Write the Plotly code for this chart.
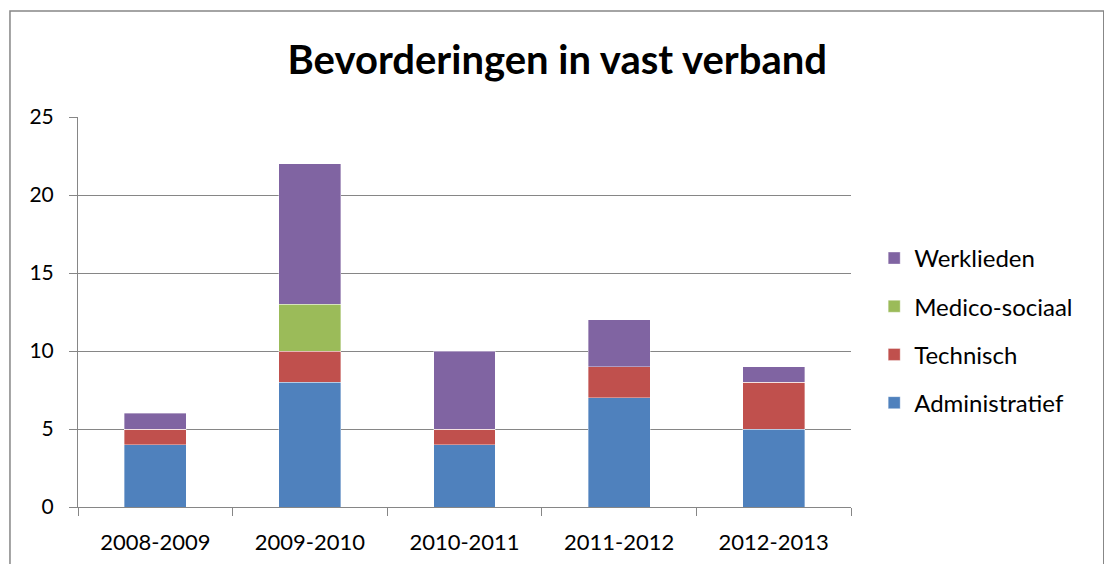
import plotly.graph_objects as go

years = ["2008-2009", "2009-2010", "2010-2011", "2011-2012", "2012-2013"]
administratief = [4, 8, 4, 7, 5]
technisch = [1, 2, 1, 2, 3]
medico_sociaal = [0, 3, 0, 0, 0]
werklieden = [1, 9, 5, 3, 1]

series = [
    ("Administratief", administratief, "#4F81BD"),
    ("Technisch", technisch, "#C0504D"),
    ("Medico-sociaal", medico_sociaal, "#9BBB59"),
    ("Werklieden", werklieden, "#8064A2"),
]

FONT = "Lato, Carlito, Calibri, sans-serif"
GRID = "#868686"

fig = go.Figure()
for i, (name, vals, col) in enumerate(series):
    # legend lists the top segment first
    fig.add_bar(name=name, x=years, y=vals, marker_color=col, legendgroup=name,
                legendrank=len(series) - i,
                marker_line=dict(color="rgba(255,255,255,0.6)", width=0.6), width=0.4)

# page has an 8px body margin, so margins are shifted by that much
fig.update_layout(
    barmode="stack",
    width=1112, height=564,
    margin=dict(l=70, r=269, t=109, b=65),
    paper_bgcolor="white", plot_bgcolor="white",
    font=dict(family=FONT, size=21, color="black"),
    title=dict(text="<b>Bevorderingen in vast verband</b>", x=0.62, xref="paper",
               xanchor="center", y=0.908, yanchor="middle",
               font=dict(size=40, family=FONT, color="black")),
    legend=dict(x=1.03, y=0.695, xanchor="left", yanchor="top",
                traceorder="grouped", tracegroupgap=14,
                font=dict(size=24, family=FONT), itemwidth=30),
    showlegend=True,
)
fig.update_yaxes(range=[0, 25], dtick=5, showgrid=True, gridcolor=GRID, gridwidth=1,
                 showline=True, linecolor=GRID, linewidth=1, ticks="outside",
                 ticklen=8, tickcolor=GRID, zeroline=False, ticklabelstandoff=11,
                 tickfont=dict(size=21))
fig.update_xaxes(showline=True, linecolor=GRID, linewidth=1, ticks="outside",
                 tickson="boundaries", ticklen=8, tickcolor=GRID, ticklabelstandoff=16,
                 tickfont=dict(size=22))

# outer chart border
fig.add_shape(type="rect", xref="paper", yref="paper",
              x0=-0.088, x1=1.327, y0=-0.2, y1=1.2718,
              line=dict(color="#868686", width=1.5), fillcolor="rgba(0,0,0,0)")

fig.write_html("out.html")
